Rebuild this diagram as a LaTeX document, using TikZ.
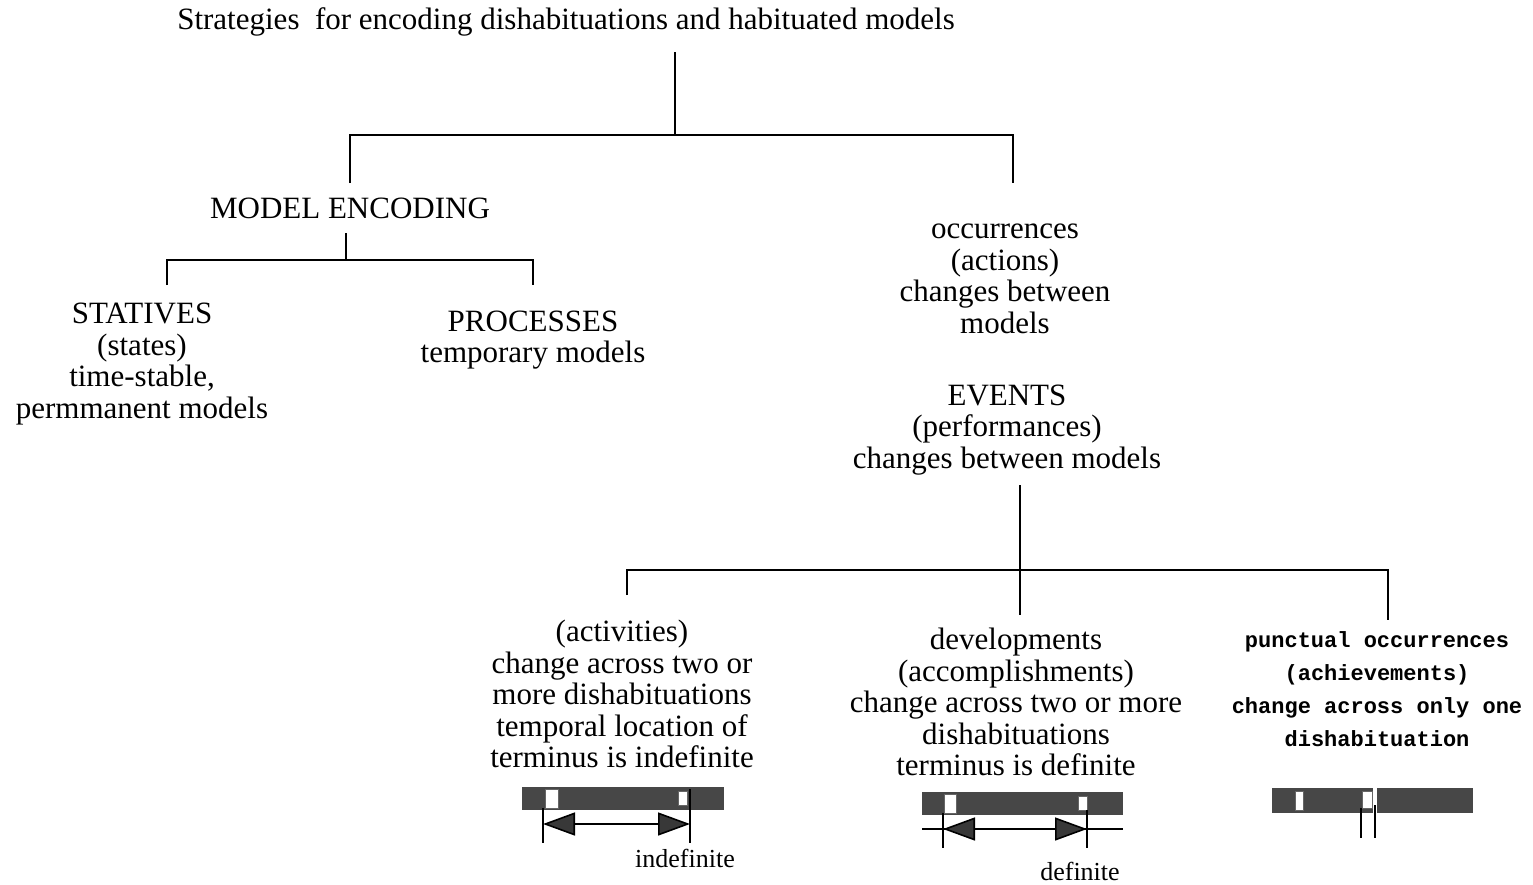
\documentclass[tikz,border=0pt]{standalone}
\usepackage{fontspec}
\setmainfont{Liberation Serif}
\newfontfamily\pixfont{Liberation Mono}
\usetikzlibrary{arrows.meta}
\begin{document}
\begin{tikzpicture}[x=1pt,y=-1pt,
  every node/.style={inner sep=0pt,outer sep=0pt},
  label/.style={align=center,font=\fontsize{31}{31.5}\selectfont},
  pixlabel/.style={align=center,font=\pixfont\bfseries\fontsize{22}{33}\selectfont},
  small/.style={font=\fontsize{26}{28}\selectfont},
  branch/.style={line width=2.2pt},
  bar/.style={fill=black!72,draw=none},
  gap/.style={fill=white,draw=black!60,line width=0.6pt},
  tick/.style={line width=2pt},
  span/.style={line width=1.6pt,{Triangle[length=32pt,width=23pt,fill=black!78]}-{Triangle[length=32pt,width=23pt,fill=black!78]}}]
\useasboundingbox (0,0) rectangle (1533,884);

% headings
\node[label] (title) at (566,22) {Strategies\ \ for encoding dishabituations and habituated models};
\node[label] (me) at (350,208) {MODEL ENCODING};
\node[label] (stat) at (142,364) {STATIVES\\(states)\\time-stable,\\permmanent models};
\node[label] (proc) at (533,340) {PROCESSES\\temporary models};
\node[label] (occ) at (1005,279) {occurrences\\(actions)\\changes between\\models};
\node[label] (ev) at (1007,430) {EVENTS\\(performances)\\changes between models};
\node[label] (act) at (622,694) {(activities)\\change across two or\\more dishabituations\\temporal location of\\terminus is indefinite};
\node[label] (dev) at (1016,702) {developments\\(accomplishments)\\change across two or more\\dishabituations\\terminus is definite};
\node[pixlabel] (pun) at (1377,689) {punctual occurrences\\(achievements)\\change across only one\\dishabituation};

% tree branches
\coordinate (t0) at (675,52);
\coordinate (t1) at (675,135);
\coordinate (tl) at (350,135);
\coordinate (tr) at (1013,135);
\coordinate (tl2) at (350,183);
\coordinate (tr2) at (1013,183);
\draw[branch] (t0) -- (t1);
\draw[branch] (tl2) -- (tl) -- (tr) -- (tr2);

\coordinate (m0) at (346,233);
\coordinate (m1) at (346,260);
\coordinate (ml) at (167,260);
\coordinate (mr) at (533,260);
\coordinate (ml2) at (167,285);
\coordinate (mr2) at (533,285);
\draw[branch] (m0) -- (m1);
\draw[branch] (ml2) -- (ml) -- (mr) -- (mr2);

\coordinate (e0) at (1020,485);
\coordinate (e1) at (1020,570);
\coordinate (el) at (627,570);
\coordinate (er) at (1388,570);
\coordinate (el2) at (627,595);
\coordinate (em2) at (1020,615);
\coordinate (er2) at (1388,620);
\draw[branch] (e0) -- (em2);
\draw[branch] (el2) -- (el) -- (er) -- (er2);

% indefinite terminus
\fill[bar] (522,787) rectangle (724,810);
\fill[gap] (545,789) rectangle (558,808);
\fill[gap] (678,791) rectangle (687,805);
\coordinate (a1) at (543,824);
\coordinate (a2) at (690,824);
\draw[tick] (543,808) -- (543,843);
\draw[tick] (690,789) -- (690,843);
\draw[span] (a1) -- (a2);
\node[small] (indef) at (685,858) {indefinite};

% definite terminus
\fill[bar] (922,792) rectangle (1123,815);
\fill[gap] (944,794) rectangle (956,813);
\fill[gap] (1078,796) rectangle (1087,810);
\draw[line width=1.2pt] (922,829) -- (1123,829);
\coordinate (b1) at (943,829);
\coordinate (b2) at (1087,829);
\draw[tick] (943,813) -- (943,848);
\draw[tick] (1087,810) -- (1087,848);
\draw[span] (b1) -- (b2);
\node[small] (def) at (1080,871) {definite};

% punctual terminus
\fill[bar] (1272,788) rectangle (1473,813);
\fill[white] (1373,786) rectangle (1377,815);
\fill[gap] (1295,791) rectangle (1303,810);
\fill[gap] (1362,791) rectangle (1372,808);
\draw[tick] (1361,808) -- (1361,838);
\draw[tick] (1375,805) -- (1375,838);
\end{tikzpicture}
\end{document}
